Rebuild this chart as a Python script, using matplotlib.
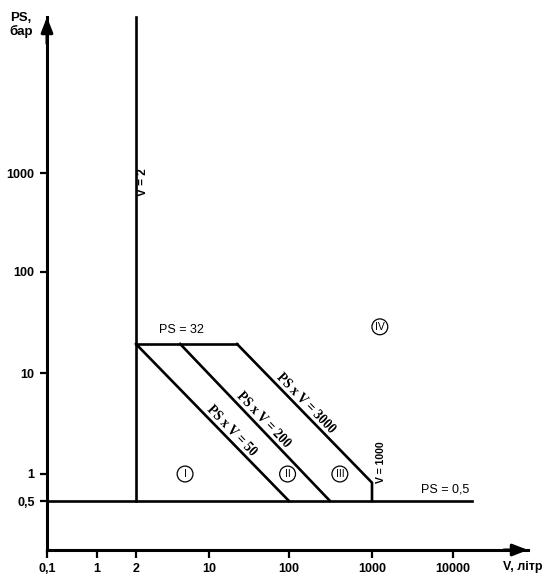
import numpy as np
import matplotlib.pyplot as plt
from matplotlib.textpath import TextPath
from matplotlib.font_manager import FontProperties
from matplotlib.patches import PathPatch
from matplotlib.transforms import Affine2D, IdentityTransform

plt.rcParams['font.family'] = ['Liberation Sans', 'DejaVu Sans']

# ----------------------------
# Schematic (non-uniform) axes: tick values and the pixel where each sits
# ----------------------------
x_nodes = [0.1, 1, 2, 10, 100, 1000, 10000, 100000]
x_node_px = [47, 97, 136, 209, 289, 372, 453, 528]
y_nodes = [0.1, 0.5, 1, 10, 32, 100, 1000, 10000]
y_node_px = [550, 501, 474, 373, 344, 272, 173, 17]

x_ticks = [0.1, 1, 2, 10, 100, 1000, 10000]
x_tick_labels = ['0,1', '1', '2', '10', '100', '1000', '10000']
y_ticks = [0.5, 1, 10, 100, 1000]
y_tick_labels = ['0,5', '1', '10', '100', '1000']

# ----------------------------
# Boundary lines (V in litres, PS in bar)
# ----------------------------
v2_line_v = [2, 2]
v2_line_ps = [0.5, 10000]
ps05_line_v = [0.1, 18000]
ps05_line_ps = [0.5, 0.5]
ps32_line_v = [2, 22.4]
ps32_line_ps = [32, 32]
pv50_v = [2, 100]
pv50_ps = [32, 0.5]
pv200_v = [5.3, 312]
pv200_ps = [32, 0.5]
pv3000_v = [22.4, 1000, 1000]
pv3000_ps = [32, 0.8, 0.5]

region_names = ['I', 'II', 'III', 'IV']
region_v = [5.9, 96, 410, 1250]
region_ps = [1.0, 1.0, 1.0, 42]

H = 579


def make_scale(nodes, px, flip=False):
    logs = np.log10(nodes)
    pos = np.array(px, dtype=float)
    if flip:
        pos = H - pos

    def fwd(v):
        v = np.clip(np.asarray(v, dtype=float), 1e-12, None)
        return np.interp(np.log10(v), logs, pos)

    def inv(u):
        return 10 ** np.interp(np.asarray(u, dtype=float), pos, logs)
    return fwd, inv


fig = plt.figure(figsize=(5.54, 5.79), dpi=100)
ax = fig.add_axes([47 / 554, (H - 550) / H, (528 - 47) / 554, (550 - 17) / H])
ax.set_xscale('function', functions=make_scale(x_nodes, x_node_px))
ax.set_yscale('function', functions=make_scale(y_nodes, y_node_px, flip=True))
ax.set_xlim(0.1, 100000)
ax.set_ylim(0.1, 10000)

for s in ['top', 'right']:
    ax.spines[s].set_visible(False)
for s in ['left', 'bottom']:
    ax.spines[s].set_linewidth(2.2)

ax.set_xticks(x_ticks)
ax.set_xticklabels(x_tick_labels)
ax.set_yticks(y_ticks)
ax.set_yticklabels(y_tick_labels)
ax.minorticks_off()
ax.tick_params(axis='both', direction='out', width=1.6, labelsize=9)
ax.tick_params(axis='y', length=5, pad=4)
ax.tick_params(axis='x', length=6, pad=3)
for lab in ax.get_xticklabels() + ax.get_yticklabels():
    lab.set_fontweight('bold')

# axis arrows
ax.annotate('', xy=(0, 1.0), xytext=(0, 0.95), xycoords='axes fraction',
            arrowprops=dict(arrowstyle='-|>,head_length=0.9,head_width=0.35',
                            color='k', lw=2.2, shrinkA=0, shrinkB=0))
ax.annotate('', xy=(1.0, 0), xytext=(0.95, 0), xycoords='axes fraction',
            arrowprops=dict(arrowstyle='-|>,head_length=0.9,head_width=0.35',
                            color='k', lw=2.2, shrinkA=0, shrinkB=0))

lw = 1.9
ax.plot(v2_line_v, v2_line_ps, color='k', lw=lw, clip_on=False)
ax.plot(ps05_line_v, ps05_line_ps, color='k', lw=lw)
ax.plot(ps32_line_v, ps32_line_ps, color='k', lw=lw)
ax.plot(pv50_v, pv50_ps, color='k', lw=lw)
ax.plot(pv200_v, pv200_ps, color='k', lw=lw)
ax.plot(pv3000_v, pv3000_ps, color='k', lw=lw)

# rotated, condensed serif labels along the PS x V lines
serif = FontProperties(family='Liberation Serif', weight='bold')
diag = [(pv50_v, pv50_ps, 'PS x V = 50', 0.59),
        (pv200_v, pv200_ps, 'PS x V = 200', 0.52),
        (pv3000_v[:2], pv3000_ps[:2], 'PS x V = 3000', 0.47)]
for vv, pp, txt, t in diag:
    p0 = ax.transData.transform((vv[0], pp[0]))
    p1 = ax.transData.transform((vv[1], pp[1]))
    d = p1 - p0
    ang = np.degrees(np.arctan2(d[1], d[0]))
    n = np.array([-d[1], d[0]]) / np.hypot(*d)
    centre = p0 + t * d + n * 9.5
    tp = TextPath((0, 0), txt, size=15, prop=serif)
    ext = tp.get_extents()
    tr = (Affine2D().translate(-(ext.x0 + ext.x1) / 2, -(ext.y0 + ext.y1) / 2)
          .scale(0.88, 1).rotate_deg(ang).translate(*centre))
    fig.add_artist(PathPatch(tr.transform_path(tp), transform=IdentityTransform(),
                             fc='k', ec='none'))

ax.annotate('V = 2', xy=(2, 800), xytext=(7, 0), textcoords='offset pixels',
            rotation=90, ha='center', va='center', fontsize=8.5, fontweight='bold')
ax.annotate('V = 1000', xy=(1000, 1.3), xytext=(9, 0), textcoords='offset pixels',
            rotation=90, ha='center', va='center', fontsize=7.5, fontweight='bold')
ax.annotate('PS = 32', xy=(5.4, 32), xytext=(0, 14), textcoords='offset pixels',
            ha='center', va='center', fontsize=9)
ax.annotate('PS = 0,5', xy=(8000, 0.5), xytext=(0, 11), textcoords='offset pixels',
            ha='center', va='center', fontsize=9)

for name, vv, pp in zip(region_names, region_v, region_ps):
    ax.text(vv, pp, name, ha='center', va='center', fontsize=7.5,
            bbox=dict(boxstyle='circle,pad=0.28', fc='white', ec='k', lw=0.9))

fig.text(21 / 554, 1 - 25 / H, 'PS,\nбар', ha='center', va='center',
         fontsize=9.5, fontweight='bold', linespacing=1.1)
fig.text(523 / 554, 1 - 567 / H, 'V, літр', ha='center', va='center',
         fontsize=9, fontweight='bold')

fig.savefig('out.png', dpi=100)
